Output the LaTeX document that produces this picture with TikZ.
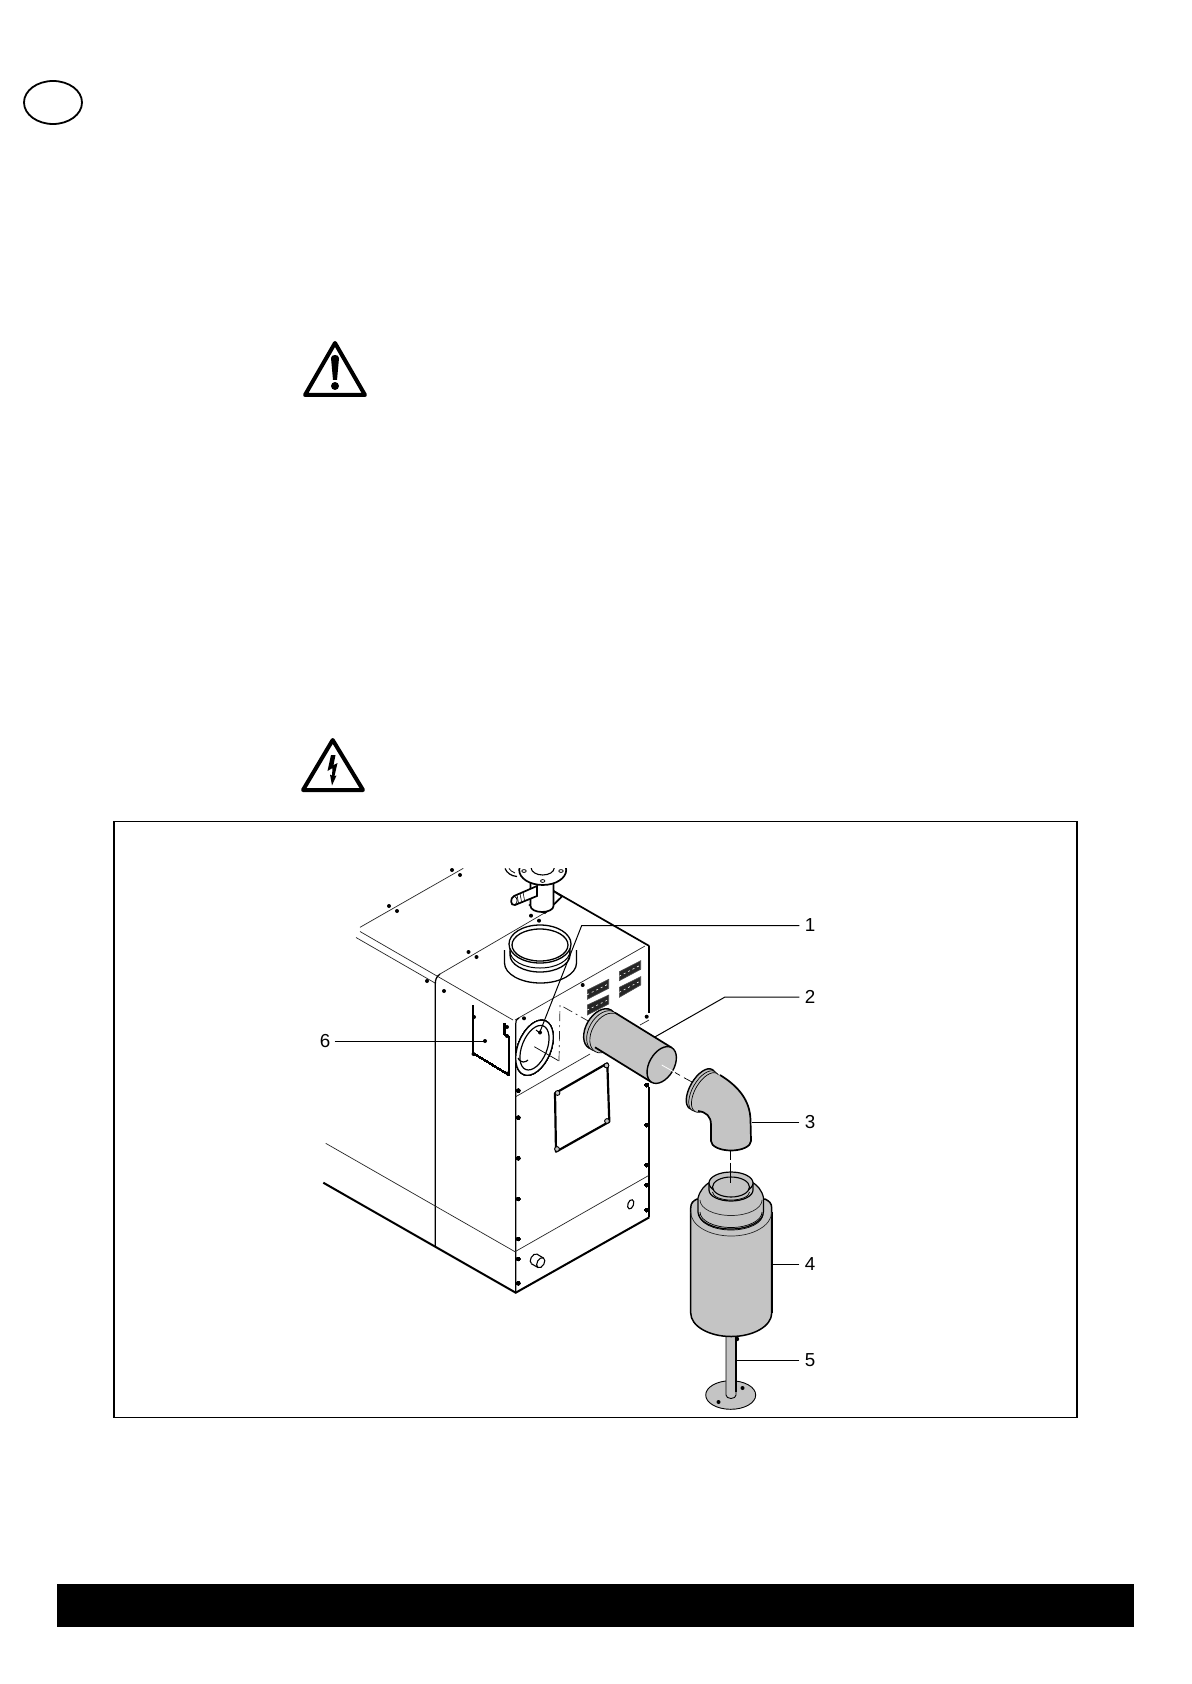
\documentclass[tikz,border=0pt]{standalone}
\usepackage{fontspec}
\setmainfont{Liberation Sans}
\newcommand{\isoell}[5][]{\path[#1,rotate around={-30:(#2,#3)}] (#2,#3) ellipse [x radius=#5, y radius=#4];}
\tikzset{
  heavy/.style={draw=black,line width=0.85pt},
  hair/.style={draw=black!85,line width=0.35pt},
  leader/.style={draw=black,line width=0.5pt},
  part/.style={fill=partgray,draw=black,line width=0.7pt},
  axisline/.style={draw=black,line width=0.35pt,dash pattern=on 14pt off 2pt on 3pt off 2pt},
  lab/.style={font=\fontsize{9.4pt}{11pt}\selectfont,inner sep=0pt},
  grille/.style={fill=black!85,draw=black!70,line width=0.3pt},
  warn/.style={draw=black,line width=2pt,line join=round}
}
\definecolor{partgray}{HTML}{C4C4C4}
\newcommand{\scr}[2]{\fill[black] (#1,#2) circle (2);}
\newcommand{\vent}[8]{\draw[grille] (#1,#2) -- (#3,#4) -- (#5,#6) -- (#7,#8) -- cycle;
  \draw[white,line width=0.3pt,dash pattern=on 1pt off 1.5pt] ($(#1,#2)!0.5!(#7,#8)$) -- ($(#3,#4)!0.5!(#5,#6)$);}
\usetikzlibrary{calc}
\begin{document}
\begin{tikzpicture}[x=0.5pt,y=-0.5pt]
\useasboundingbox (0,0) rectangle (1192,1684);
\fill[white] (0,0) rectangle (1192,1684);
% page furniture
\draw[black,line width=0.9pt] (53,102.5) ellipse [x radius=29, y radius=21.5];
\fill[black] (57,1584) rectangle (1134,1627);
\draw[black,line width=0.6pt] (114,821.5) rectangle (1077,1417.5);
% warning triangle
\draw[warn] (335,343) -- (305,395) -- (365,395) -- cycle;
\fill[black] (331,358) .. controls (331,354) and (339,354) .. (339,358) -- (337,380) -- (333,380) -- cycle;
\fill[black] (335,386) circle (4);
% voltage triangle
\draw[warn] (332.7,740) -- (303,790) -- (363,790) -- cycle;
\fill[black] (331,755) -- (335.5,755) -- (333.5,765) -- (337.5,763) -- (334.5,776) -- (336.5,775.5) -- (332,785.5) -- (330,774.5) -- (332,775.5) -- (332.5,768) -- (327.5,771) -- cycle;
% upper left panel
\draw[hair] (360,927.3) -- (463.3,868.3);
\draw[hair] (360,931.5) -- (513,1020);
\draw[hair] (356,937.5) -- (435,983);
\draw[heavy,line width=0.65pt] (435.3,1246.7) -- (435.3,984) .. controls (435.3,980) and (436,977) .. (440,974);
\draw[hair] (440,974) -- (553,908);
% top face edges
\draw[heavy] (553,890.7) -- (649.3,946);
\draw[hair] (515,1020) -- (645,946);
\draw[heavy,line width=0.6pt] (519,1018) .. controls (516,1020) and (515.7,1021) .. (515.7,1024) -- (515.7,1292.7);
\draw[heavy] (649.3,946) -- (649.3,1013);
\draw[heavy] (649.3,1087) -- (649.3,1217.3);
\draw[heavy,line width=1pt] (323.3,1182.7) -- (515.7,1292.7) -- (649.3,1217.3);
\draw[hair] (325.7,1143.3) -- (515,1251.7) -- (648.3,1175.7);
\draw[hair] (515.7,1096.7) -- (590,1054);
\draw[hair] (640,1025) -- (649,1020);
% collar on top
\draw[heavy,line width=0.65pt,fill=white] (504.5,950) -- (504.5,963) arc[start angle=180,end angle=0,x radius=36,y radius=20] -- (576.5,950);
\draw[heavy,line width=0.65pt,fill=white] (510,942) -- (510,955) arc[start angle=180,end angle=0,x radius=30,y radius=17] -- (570,942);
\draw[heavy,line width=0.5pt] (510,951) arc[start angle=180,end angle=0,x radius=30,y radius=17];
\draw[heavy,line width=0.65pt,fill=white] (540,944) ellipse [x radius=31, y radius=19];
\draw[heavy,line width=0.65pt] (540,945) ellipse [x radius=28, y radius=16];
% upright stack
\begin{scope}
\clip (480,868.3) rectangle (600,950);
\draw[heavy,fill=white] (530,905) -- (545,913) -- (562,896.5) -- (553,890.7) -- cycle;
\draw[line width=0.6pt] (505,868.5) .. controls (507,873) and (511,876) .. (517,876.5);
\draw[line width=0.4pt] (509,868.5) .. controls (510,870) and (512,872) .. (515,873);
\draw[heavy,fill=white] (530.5,880) -- (530.5,906) arc[start angle=180,end angle=0,x radius=11.5,y radius=6] -- (553.5,880) -- cycle;
\draw[heavy,fill=white] (542.7,870) ellipse [x radius=23.5, y radius=15];
\draw[heavy,line width=0.55pt,fill=white] (542.7,868) ellipse [x radius=11.5, y radius=7];
\foreach \px/\py in {524/871,561/871,542.7/881}
  \draw[line width=0.4pt,fill=white] (\px,\py) ellipse [x radius=2.2, y radius=1.4];
\draw[heavy,fill=white] (537,886) -- (514,896) .. controls (510,898) and (510,906) .. (515,905) -- (537,896) -- cycle;
\draw[line width=0.4pt] (514,896) .. controls (518,898) and (518,902) .. (515,905);
\foreach \tx/\ty in {517/895,520/893.5,523/892.2}
  \draw[line width=0.3pt] (\tx,\ty) -- (\tx+1.5,\ty+8);
\end{scope}
% screws on top
\foreach \px/\py in {389/906,397/911,452/870,460/875,468.5/952,476.5/957,531/915.7,539/920.7,427/981,444/991,524/1018.3,582.7/985,646.7/1016.7}
  \scr{\px}{\py}
\foreach \py in {1090.7,1117.7,1158.3,1199,1239,1259,1283.3} \scr{518.3}{\py}
\foreach \py in {1085,1125,1165,1185,1210} \scr{646.7}{\py}
% panel
\draw[heavy,line width=0.6pt] (473.3,1005) -- (473.3,1053.3) -- (507.3,1074) -- (509.3,1075) -- (509.3,1037) -- (504.5,1034) -- (504.5,1023);
\foreach \px/\py in {474/1017,473.5/1054,507.5/1073.5,507/1036,507/1027,485/1041} \scr{\px}{\py}
% side opening
\draw[heavy,line width=0.6pt,fill=white,rotate around={-22:(534.5,1047.7)}] (534.5,1047.7) ellipse [x radius=16.5, y radius=29];
\draw[heavy,line width=0.6pt,rotate around={-22:(534.5,1047.7)}] (534.5,1047.7) ellipse [x radius=12.5, y radius=23.5];
\draw[heavy,line width=0.6pt] (518,1058) .. controls (521,1064) and (526,1062) .. (528,1060);
\draw[heavy,line width=0.5pt] (536,1030) -- (540,1033);
\scr{540}{1032.5}
% vent grilles
\vent{619.3}{971.7}{640.7}{960.7}{640.7}{969.3}{619.3}{980.7}
\vent{619.3}{987.3}{640.7}{976.7}{640.7}{985}{619.3}{997.3}
\vent{587.3}{990}{608.7}{979.3}{608.7}{988.3}{587.3}{999.3}
\vent{587.3}{1005}{608.7}{995}{608.7}{1004}{587.3}{1015}
% access cover
\draw[heavy,line width=1.1pt,line join=round] (555,1093.3) -- (607.3,1063.3) -- (609.3,1121.7) -- (556,1151.7) -- cycle;
\foreach \px/\py in {557.5/1093,606.5/1065.5,607/1121,557/1149}
  \draw[line width=0.45pt,fill=partgray] (\px,\py) circle (2.4);
% small parts on lower band
\isoell[draw=black,line width=0.55pt,fill=white]{534.3}{1259}{5.5}{3.5}
\fill[white] (537,1254.2) -- (543.4,1258) -- (538,1267.5) -- (531.5,1263.8) -- cycle;
\draw[line width=0.55pt] (537,1254.2) -- (543.4,1258);
\draw[line width=0.55pt] (531.5,1263.8) -- (538,1267.5);
\isoell[draw=black,line width=0.55pt,fill=white]{540.7}{1262.7}{5.5}{3.5}
\draw[line width=0.55pt,rotate around={-20:(630.7,1204.3)}] (630.7,1204.3) ellipse [x radius=2.8, y radius=4.8];
% assembly axis
\coordinate (axA) at (534.3,1046.7);
\coordinate (axB) at (559,1061);
\coordinate (axC) at (560,1005);
\coordinate (axD) at (590,1022);
\draw[axisline] (axA) -- (axB);
\draw[hair,dash pattern=on 5pt off 2pt on 1pt off 2pt] (axB) -- (axC) -- (axD);
% pipe 2
\isoell[part]{600}{1029}{22}{14}
\isoell[part,line width=0.35pt]{603}{1031}{22}{14}
\isoell[part,line width=0.35pt]{606}{1033}{21.5}{14}
\fill[partgray] (615,1012.7) -- (671.7,1047.7) -- (651.7,1082.3) -- (595,1047.3) -- cycle;
\draw[heavy] (615,1012.7) -- (671.7,1047.7);
\draw[heavy] (595,1047.3) -- (651.7,1082.3);
\isoell[part,line width=0.7pt]{661.7}{1065}{20}{12.4}
\coordinate (axE) at (661.7,1065);
\coordinate (axF) at (692,1082);
\draw[axisline,draw=white,line width=0.4pt,dash pattern=on 15pt off 2pt on 4pt off 2pt] (axE) -- (axF);
\draw[black,line width=0.35pt] (675,1072.5) -- (680,1075.4);
\draw[black,line width=0.35pt] (684,1077.7) -- (692,1082);
% elbow 3
\isoell[part]{701}{1089}{22.5}{11}
\isoell[part,line width=0.35pt]{703.5}{1091}{22.5}{11}
\isoell[part,line width=0.35pt]{706}{1092.5}{22}{11}
\path[fill=partgray] (698,1111) -- (719,1074) -- (720,1075) .. controls (738,1086) and (750,1100) .. (750.5,1120) -- (751,1141) arc[start angle=0,end angle=180,x radius=20,y radius=9.5] -- (711,1125) .. controls (711,1116) and (706,1112) .. (698,1111) -- cycle;
\draw[heavy] (720,1075) .. controls (738,1086) and (750,1100) .. (750.5,1120) -- (751,1141) arc[start angle=0,end angle=180,x radius=20,y radius=9.5] -- (711,1125) .. controls (711,1116) and (706,1112) .. (698,1111);
% rod and foot 5
\draw[line width=0.45pt,fill=partgray] (730.7,1395) ellipse [x radius=25, y radius=14.3];
\scr{742.5}{1388}
\scr{718.5}{1402}
\draw[line width=0.45pt,fill=partgray] (726,1330) -- (726,1395) arc[start angle=180,end angle=0,x radius=5,y radius=3.5] -- (736,1330) -- cycle;
\draw[black,line width=0.9pt] (736.3,1335) -- (736.3,1392);
\fill[black] (737,1339) circle (2.2);
% silencer 4
\draw[part,line width=0.75pt] (690.7,1208) .. controls (690.7,1203) and (693,1201) .. (697,1199) -- (765,1199) .. controls (769,1201) and (771.7,1203) .. (771.7,1208) -- (771.7,1313) arc[start angle=0,end angle=180,x radius=40.5,y radius=23.5] -- cycle;
\draw[black,line width=1.1pt] (771.7,1212) -- (771.7,1313);
\draw[hair] (690.7,1212) arc[start angle=180,end angle=0,x radius=40.5,y radius=24];
\draw[part,line width=0.6pt] (698,1198) -- (698,1212) arc[start angle=180,end angle=0,x radius=32.7,y radius=17] -- (763.5,1198) .. controls (762,1190) and (757,1185) .. (752,1182) -- (710,1182) .. controls (705,1185) and (700,1190) .. (698,1198) -- cycle;
\draw[black,line width=0.35pt] (699,1214) arc[start angle=180,end angle=0,x radius=32,y radius=16];
\draw[black,line width=0.35pt] (700,1212) arc[start angle=180,end angle=0,x radius=31,y radius=15.5];
\draw[hair] (700,1200) arc[start angle=180,end angle=0,x radius=31,y radius=15.5];
\draw[part,line width=0.6pt] (709,1183) -- (709,1190) arc[start angle=180,end angle=0,x radius=22,y radius=11] -- (753,1183);
\draw[line width=0.6pt,fill=partgray] (731,1183) ellipse [x radius=22, y radius=11];
\draw[line width=0.55pt,fill=partgray] (731,1187) ellipse [x radius=18.5, y radius=10];
\draw[line width=0.35pt] (712.5,1192) arc[start angle=180,end angle=0,x radius=18.5,y radius=8];
\coordinate (axG) at (730.7,1150.5);
\coordinate (axH) at (730.7,1183);
\draw[axisline,dash pattern=on 4.5pt off 1.5pt on 11pt off 2pt] (axG) -- (axH);
% labels and leaders
\node[lab] (L1) at (810,925.5) {1};
\node[lab] (L2) at (810,997) {2};
\node[lab] (L3) at (810,1122.5) {3};
\node[lab] (L4) at (810,1264) {4};
\node[lab] (L5) at (810,1360.5) {5};
\node[lab] (L6) at (325,1041.5) {6};
\coordinate (b1) at (581.7,925.5);
\coordinate (t1) at (540,1031.7);
\coordinate (b2) at (725,997);
\coordinate (t2) at (654.3,1037.3);
\coordinate (t3) at (751.7,1122.5);
\coordinate (t4) at (772.3,1264);
\coordinate (t5) at (736.5,1360.5);
\coordinate (t6) at (485,1041.5);
\draw[leader] ([xshift=-2.5pt]L1.west) -- (b1) -- (t1);
\draw[leader] ([xshift=-2.5pt]L2.west) -- (b2) -- (t2);
\draw[leader] ([xshift=-2.5pt]L3.west) -- (t3);
\draw[leader] ([xshift=-2.5pt]L4.west) -- (t4);
\draw[leader] ([xshift=-2.5pt]L5.west) -- (t5);
\draw[leader] ([xshift=2pt]L6.east) -- (t6);
\end{tikzpicture}
\end{document}
